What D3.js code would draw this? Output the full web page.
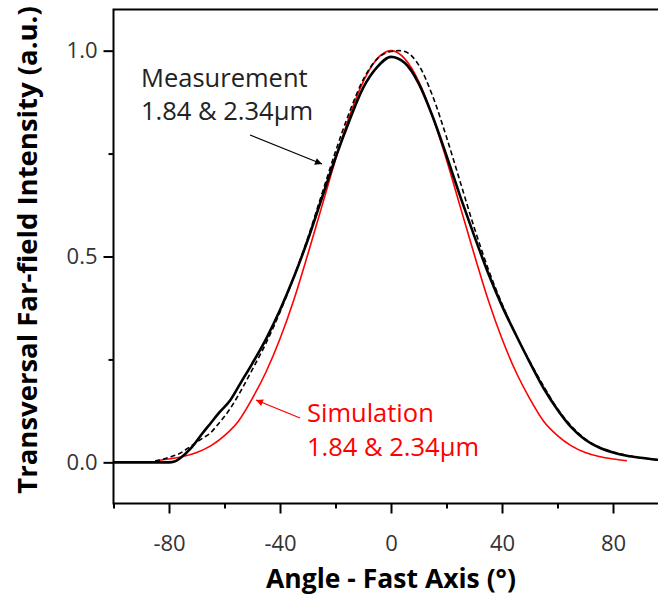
<!DOCTYPE html>
<html><head><meta charset="utf-8">
<script src="https://cdn.jsdelivr.net/npm/d3@7"></script>
<style>
body{margin:0;background:#fff;}
svg{display:block;font-family:"Open Sans","Noto Sans",sans-serif;}
</style></head>
<body><svg id="c" width="658" height="597"></svg>
<script>
// ---- data ----
const simAngles = [-85,-80,-75,-70,-65,-60,-55,-50,-45,-40,-35,-30,-25,-20,-15,-10,-5,0,5,10,15,20,25,30,35,40,45,50,55,60,65,70,75,80,85];
const simValues = [0.004,0.008,0.014,0.024,0.040,0.065,0.100,0.155,0.220,0.300,0.395,0.505,0.620,0.735,0.840,0.925,0.980,1.000,0.980,0.925,0.840,0.735,0.620,0.505,0.395,0.300,0.220,0.155,0.100,0.065,0.040,0.024,0.014,0.008,0.004];

const measAngles = [-100,-90,-80,-78,-76,-72,-68,-65,-62,-58,-54,-50,-45,-40,-35,-30,-25,-20,-15,-10,-5,0,5,10,15,20,25,30,35,40,45,50,55,60,65,70,75,80,85,90,95,100];
const measSolid  = [0,0,0,0.002,0.010,0.035,0.070,0.095,0.120,0.150,0.195,0.240,0.300,0.370,0.450,0.540,0.640,0.740,0.830,0.910,0.960,0.985,0.970,0.920,0.840,0.745,0.645,0.550,0.460,0.380,0.310,0.243,0.180,0.128,0.085,0.055,0.036,0.024,0.016,0.011,0.007,0.005];
const dashAngles = [-85,-80,-76,-72,-68,-65,-62,-58,-54,-50,-45,-40,-35,-30,-25,-20,-15,-10,-5,0,3,5,10,15,20,25,30,35,40,45,50,55,60,65,70,75,80,85,90,95,100];
const measDashed = [0.003,0.012,0.022,0.040,0.058,0.072,0.095,0.130,0.175,0.225,0.290,0.365,0.450,0.545,0.650,0.755,0.850,0.930,0.980,0.998,1.000,0.998,0.965,0.890,0.790,0.680,0.570,0.470,0.385,0.310,0.245,0.185,0.130,0.088,0.057,0.037,0.025,0.017,0.011,0.007,0.005];

const yTicks = [0, 0.5, 1.0];
const yMinor = [0.25, 0.75];
const xTicks = [-80, -40, 0, 40, 80];
const xMinor = [-100, -60, -20, 20, 60, 100];

// ---- chart ----
const svg = d3.select("#c");
const x = d3.scaleLinear().domain([-100, 100]).range([113.5, 668.5]);
const y = d3.scaleLinear().domain([-0.1, 1.1]).range([503.5, 9.5]);

const lab = "#333";
const fmtX = d => (d < 0 ? "-" + Math.abs(d) : String(d));
// y axis
const ya = svg.append("g").attr("transform", `translate(${x(-100)},0)`)
  .call(d3.axisLeft(y).tickValues(yTicks).tickFormat(d3.format(".1f")).tickSize(10).tickPadding(6));
const ym = svg.append("g").attr("transform", `translate(${x(-100)},0)`)
  .call(d3.axisLeft(y).tickValues(yMinor).tickFormat("").tickSize(5));
// x axis
const xa = svg.append("g").attr("transform", `translate(0,${y(-0.1)})`)
  .call(d3.axisBottom(x).tickValues(xTicks).tickFormat(fmtX).tickSize(10).tickPadding(22));
const xm = svg.append("g").attr("transform", `translate(0,${y(-0.1)})`)
  .call(d3.axisBottom(x).tickValues(xMinor).tickFormat("").tickSize(5));
[ya, ym, xa, xm].forEach(g => {
  g.select(".domain").remove();
  g.selectAll(".tick line").attr("stroke", "#000").attr("stroke-width", 2);
  g.selectAll(".tick text").attr("fill", lab).attr("font-size", 22).attr("font-family", '"Open Sans",sans-serif');
});
// frame
svg.append("rect").attr("x", x(-100)).attr("y", y(1.1)).attr("width", x(100) - x(-100)).attr("height", y(-0.1) - y(1.1))
  .attr("fill", "none").attr("stroke", "#000").attr("stroke-width", 2);

// curves
const line = d3.line().x(d => x(d[0])).y(d => y(d[1])).curve(d3.curveMonotoneX);
svg.append("path").datum(simAngles.map((a, i) => [a, simValues[i]]))
  .attr("d", line).attr("fill", "none").attr("stroke", "#ff0000").attr("stroke-width", 1.6);
svg.append("path").datum(dashAngles.map((a, i) => [a, measDashed[i]]))
  .attr("d", line).attr("fill", "none").attr("stroke", "#000").attr("stroke-width", 1.6).attr("stroke-dasharray", "5,3");
svg.append("path").datum(measAngles.map((a, i) => [a, measSolid[i]]))
  .attr("d", line).attr("fill", "none").attr("stroke", "#000").attr("stroke-width", 2.6);

// arrows
const defs = svg.append("defs");
[["ab", "#000"], ["ar", "#ff0000"]].forEach(([id, c]) => {
  defs.append("marker").attr("id", id).attr("viewBox", "0 0 10 10").attr("refX", 10).attr("refY", 5)
    .attr("markerWidth", 9).attr("markerHeight", 7).attr("markerUnits", "userSpaceOnUse").attr("orient", "auto")
    .append("path").attr("d", "M0,0 L10,5 L0,10 Z").attr("fill", c);
});
svg.append("line").attr("x1", 250).attr("y1", 135).attr("x2", 322).attr("y2", 164)
  .attr("stroke", "#000").attr("stroke-width", 1.3).attr("marker-end", "url(#ab)");
svg.append("line").attr("x1", 300).attr("y1", 418).attr("x2", 256).attr("y2", 400)
  .attr("stroke", "#ff0000").attr("stroke-width", 1.3).attr("marker-end", "url(#ar)");

// annotations
const ann = svg.append("g").attr("font-size", 25.5);
ann.append("text").attr("x", 141).attr("y", 87).attr("fill", "#222").text("Measurement");
ann.append("text").attr("x", 141).attr("y", 120).attr("fill", "#222").text("1.84 & 2.34μm");
ann.append("text").attr("x", 307).attr("y", 422).attr("fill", "#ff0000").text("Simulation");
ann.append("text").attr("x", 307).attr("y", 456).attr("fill", "#ff0000").text("1.84 & 2.34μm");

// axis titles
svg.append("text").attr("x", 391).attr("y", 588).attr("text-anchor", "middle")
  .attr("font-size", 26.5).attr("font-weight", "bold").attr("fill", "#000").text("Angle - Fast Axis (°)");
svg.append("text").attr("transform", "translate(37,250) rotate(-90)").attr("text-anchor", "middle")
  .attr("font-size", 27.5).attr("font-weight", "bold").attr("fill", "#000").text("Transversal Far-field Intensity (a.u.)");
</script></body></html>
